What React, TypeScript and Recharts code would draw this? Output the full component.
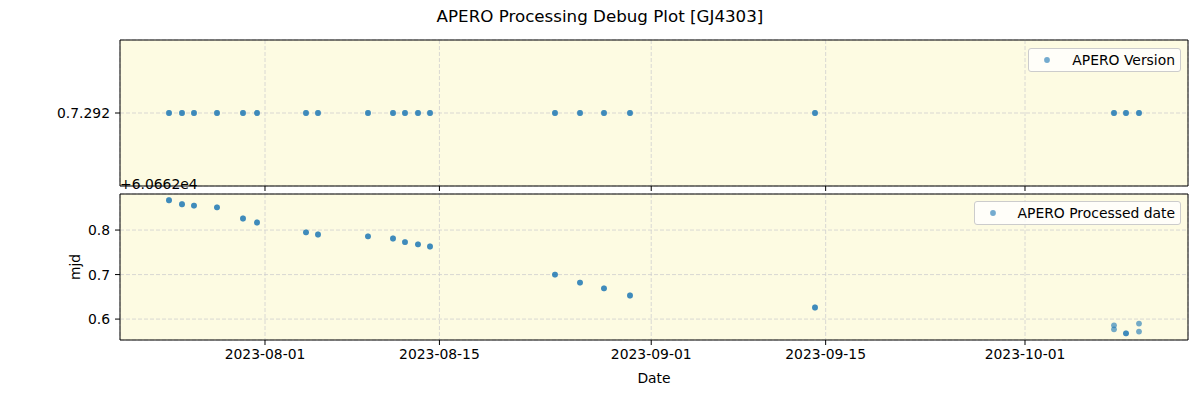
import { ScatterChart, Scatter, XAxis, YAxis, CartesianGrid, ReferenceArea, Legend } from 'recharts';

// one entry per processed file (most nights have two files at the same spot)
const obsTimes = [
  '2023-07-24T07:05:00Z', '2023-07-24T07:05:00Z',
  '2023-07-25T08:07:00Z', '2023-07-25T08:07:00Z',
  '2023-07-26T07:12:00Z', '2023-07-26T07:12:00Z',
  '2023-07-28T03:32:00Z', '2023-07-28T03:32:00Z',
  '2023-07-30T05:37:00Z', '2023-07-30T05:37:00Z',
  '2023-07-31T08:35:00Z', '2023-07-31T08:35:00Z',
  '2023-08-04T06:59:00Z', '2023-08-04T06:59:00Z',
  '2023-08-05T06:06:00Z', '2023-08-05T06:06:00Z',
  '2023-08-09T06:24:00Z', '2023-08-09T06:24:00Z',
  '2023-08-11T06:35:00Z', '2023-08-11T06:35:00Z',
  '2023-08-12T05:41:00Z', '2023-08-12T05:41:00Z',
  '2023-08-13T06:43:00Z', '2023-08-13T06:43:00Z',
  '2023-08-14T05:51:00Z', '2023-08-14T05:51:00Z',
  '2023-08-24T06:37:00Z', '2023-08-24T06:37:00Z',
  '2023-08-26T06:48:00Z', '2023-08-26T06:48:00Z',
  '2023-08-28T05:01:00Z', '2023-08-28T05:01:00Z',
  '2023-08-30T07:06:00Z', '2023-08-30T07:06:00Z',
  '2023-09-14T03:29:00Z', '2023-09-14T03:29:00Z',
  '2023-10-08T03:27:00Z', '2023-10-08T03:27:00Z',
  '2023-10-09T02:34:00Z', '2023-10-09T02:34:00Z',
  '2023-10-10T03:36:00Z', '2023-10-10T03:36:00Z',
];

const processedMjd = [
  60662.867, 60662.867,
  60662.858, 60662.858,
  60662.855, 60662.855,
  60662.851, 60662.851,
  60662.826, 60662.826,
  60662.817, 60662.817,
  60662.795, 60662.795,
  60662.790, 60662.790,
  60662.786, 60662.786,
  60662.781, 60662.781,
  60662.773, 60662.773,
  60662.768, 60662.768,
  60662.763, 60662.763,
  60662.700, 60662.700,
  60662.682, 60662.682,
  60662.669, 60662.669,
  60662.653, 60662.653,
  60662.626, 60662.626,
  60662.586, 60662.577,
  60662.568, 60662.568,
  60662.590, 60662.572,
];

const versionLabels = ['0.7.292'];
const aperoVersions = obsTimes.map(() => '0.7.292');

const dateTicks = ['2023-08-01', '2023-08-15', '2023-09-01', '2023-09-15', '2023-10-01'];
const dateRange = ['2023-07-20T08:41:00Z', '2023-10-14T02:00:00Z'];
const mjdTicks = [60662.6, 60662.7, 60662.8];
const mjdRange = [60662.553, 60662.881];
const MJD_OFFSET = 60662;

const versionData = obsTimes.map((t, i) => ({
  t: Date.parse(t),
  v: versionLabels.indexOf(aperoVersions[i]),
}));
const mjdData = obsTimes.map((t, i) => ({ t: Date.parse(t), mjd: processedMjd[i] }));

const xDomain = dateRange.map((d) => Date.parse(d));
const xTicks = dateTicks.map((d) => Date.parse(d + 'T00:00:00Z'));

const FONT = 'DejaVu Sans, sans-serif';
const FS = 13.9;
const BLUE = '#1f77b4';
const tickStyle = { fill: '#000', fontSize: FS, fontFamily: FONT };

const Dot = (props: any) => (
  <circle cx={props.cx} cy={props.cy} r={2.9} fill={BLUE} fillOpacity={0.62} />
);

const LegendBox = ({ payload }: any) => (
  <div
    style={{
      display: 'flex',
      alignItems: 'center',
      height: 24,
      boxSizing: 'border-box',
      border: '1px solid #cccccc',
      borderRadius: 3,
      background: 'rgba(255,255,255,0.8)',
      paddingLeft: 15,
      paddingRight: 5,
      fontFamily: FONT,
      fontSize: FS,
      color: '#000',
      whiteSpace: 'nowrap',
    }}
  >
    <svg width={6} height={6} style={{ display: 'block' }}>
      <circle cx={3} cy={3} r={2.9} fill={BLUE} fillOpacity={0.62} />
    </svg>
    <span style={{ marginLeft: 22 }}>{payload?.[0]?.value}</span>
  </div>
);

const fmtDate = (v: number) => new Date(v).toISOString().slice(0, 10);

export default function App() {
  return (
    <div
      style={{
        position: 'absolute',
        left: 0,
        top: 0,
        width: 1200,
        height: 400,
        background: '#fff',
        fontFamily: FONT,
      }}
    >
      <div
        style={{
          position: 'absolute',
          top: 6,
          width: 1200,
          textAlign: 'center',
          fontSize: 16.7,
          lineHeight: '20px',
          color: '#000',
        }}
      >
        APERO Processing Debug Plot [GJ4303]
      </div>

      <div style={{ position: 'absolute', left: 0, top: 0 }}>
        <ScatterChart width={1200} height={192} margin={{ top: 40, right: 12, bottom: 0, left: 0 }}>
          <CartesianGrid stroke="#cfcfcf" strokeDasharray="4 2" strokeWidth={0.8} fill="#fdfbe2" fillOpacity={1} />
          <XAxis
            type="number"
            dataKey="t"
            domain={xDomain}
            ticks={xTicks}
            allowDataOverflow
            height={6}
            tickSize={5}
            axisLine={false}
            tickLine={{ stroke: '#000' }}
            tickFormatter={() => ''}
          />
          <YAxis
            type="number"
            dataKey="v"
            domain={[-1, 1]}
            ticks={[0]}
            allowDataOverflow
            width={120}
            tickSize={5}
            tickMargin={5}
            axisLine={false}
            tickLine={{ stroke: '#000' }}
            tick={tickStyle}
            tickFormatter={(i: number) => versionLabels[i] ?? ''}
          />
          <ReferenceArea
            x1={xDomain[0]}
            x2={xDomain[1]}
            y1={-1}
            y2={1}
            fill="none"
            stroke="#000"
            strokeWidth={1}
            ifOverflow="visible"
          />
          <Scatter name="APERO Version" data={versionData} shape={Dot} isAnimationActive={false} />
          <Legend
            layout="vertical"
            align="center"
            verticalAlign="middle"
            wrapperStyle={{ top: 48, right: 19, left: 'auto', width: 'auto' }}
            content={LegendBox}
          />
        </ScatterChart>
      </div>

      <div style={{ position: 'absolute', left: 0, top: 192 }}>
        <ScatterChart width={1200} height={208} margin={{ top: 2, right: 12, bottom: 0, left: 0 }}>
          <CartesianGrid stroke="#cfcfcf" strokeDasharray="4 2" strokeWidth={0.8} fill="#fdfbe2" fillOpacity={1} />
          <XAxis
            type="number"
            dataKey="t"
            domain={xDomain}
            ticks={xTicks}
            allowDataOverflow
            height={60}
            tickSize={5}
            tickMargin={4}
            axisLine={false}
            tickLine={{ stroke: '#000' }}
            tick={tickStyle}
            tickFormatter={fmtDate}
            label={{ value: 'Date', position: 'insideBottom', offset: 17, fill: '#000', fontSize: FS, fontFamily: FONT }}
          />
          <YAxis
            type="number"
            dataKey="mjd"
            domain={mjdRange}
            ticks={mjdTicks}
            allowDataOverflow
            width={120}
            tickSize={5}
            tickMargin={5}
            axisLine={false}
            tickLine={{ stroke: '#000' }}
            tick={tickStyle}
            tickFormatter={(v: number) => (v - MJD_OFFSET).toFixed(1)}
            label={{ value: 'mjd', angle: -90, position: 'center', dx: 15, fill: '#000', fontSize: FS, fontFamily: FONT }}
          />
          <ReferenceArea
            x1={xDomain[0]}
            x2={xDomain[1]}
            y1={mjdRange[0]}
            y2={mjdRange[1]}
            fill="none"
            stroke="#000"
            strokeWidth={1}
            ifOverflow="visible"
          />
          <Scatter name="APERO Processed date" data={mjdData} shape={Dot} isAnimationActive={false} />
          <Legend
            layout="vertical"
            align="center"
            verticalAlign="middle"
            wrapperStyle={{ top: 9, right: 19, left: 'auto', width: 'auto' }}
            content={LegendBox}
          />
        </ScatterChart>
      </div>

      <div
        style={{
          position: 'absolute',
          left: 120,
          top: 177,
          fontSize: FS,
          lineHeight: '14px',
          color: '#000',
        }}
      >
        +6.0662e4
      </div>
    </div>
  );
}
